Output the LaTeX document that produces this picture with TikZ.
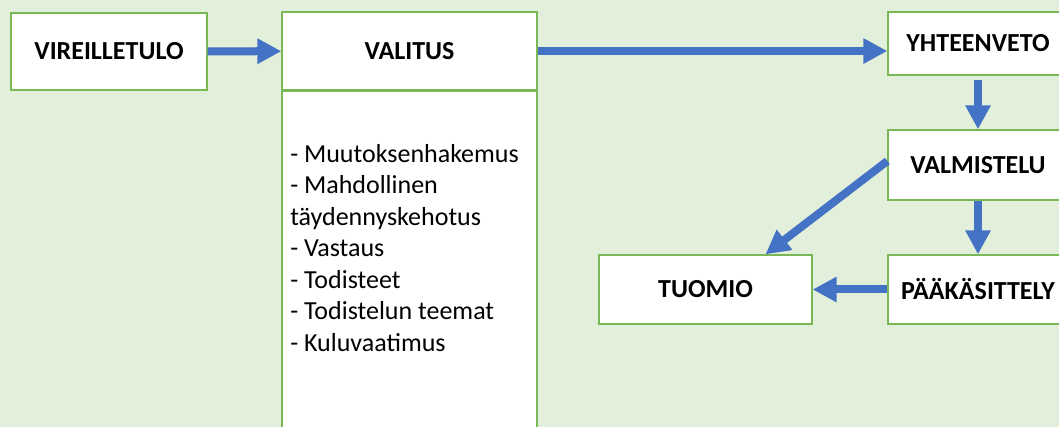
\documentclass[tikz,border=0pt]{standalone}
\usepackage{fontspec}
\setmainfont{Carlito}
\usetikzlibrary{arrows.meta, positioning}
\definecolor{paper}{RGB}{226,239,218}
\definecolor{boxline}{RGB}{122,184,86}
\definecolor{flow}{RGB}{68,114,196}

\begin{document}
\begin{tikzpicture}[x=0.75pt,y=-0.75pt,
            box/.style={draw=boxline, line width=1pt, fill=white, inner sep=0pt,
                font=\fontsize{19.5}{23.6}\selectfont\bfseries},
            flowarrow/.style={draw=flow, line width=6pt,
                -{Triangle[length=18pt,width=18pt]}}]

            \useasboundingbox (0,0) rectangle (1059,427);
            \clip (0,0) rectangle (1059,427);
            \fill[paper] (0,0) rectangle (1059,427);

            \node[box, minimum width=147pt, minimum height=57.75pt] (vireilletulo) at (109,51.5) {VIREILLETULO};
            \node[box, minimum width=191.25pt, minimum height=58.5pt] (valitus) at (409.5,51) {VALITUS};
            \node[box, minimum width=191.25pt, minimum height=262.5pt, below=0pt of valitus] (liitteet) {};
            \node[anchor=north west, inner sep=0pt, align=left,
                font=\fontsize{19.5}{23.6}\selectfont] (sisalto) at (290,144)
                {- Muutoksenhakemus\\- Mahdollinen\\täydennyskehotus\\- Vastaus\\- Todisteet\\- Todistelun teemat\\- Kuluvaatimus};

            \node[box, minimum width=135pt, minimum height=47.25pt] (yhteenveto) at (978,43.5) {YHTEENVETO};
            \node[box, minimum width=135pt, minimum height=52.5pt] (valmistelu) at (978,165) {VALMISTELU};
            \node[box, minimum width=135pt, minimum height=51.75pt] (paakasittely) at (978,289.5) {PÄÄKÄSITTELY};
            \node[box, minimum width=159.75pt, minimum height=51.75pt] (tuomio) at (705.5,289.5) {TUOMIO};

            \draw[flowarrow] (vireilletulo) -- (valitus);
            \draw[flowarrow] (valitus.east) -- (valitus.east -| yhteenveto.west);
            \draw[flowarrow, shorten <=3pt] (yhteenveto) -- (valmistelu);
            \draw[flowarrow] (valmistelu) -- (paakasittely);
            \draw[flowarrow] (paakasittely) -- (tuomio);
            \draw[flowarrow] ([yshift=3pt]valmistelu.west) -- ([xshift=45pt]tuomio.north);

        \end{tikzpicture}
\end{document}
